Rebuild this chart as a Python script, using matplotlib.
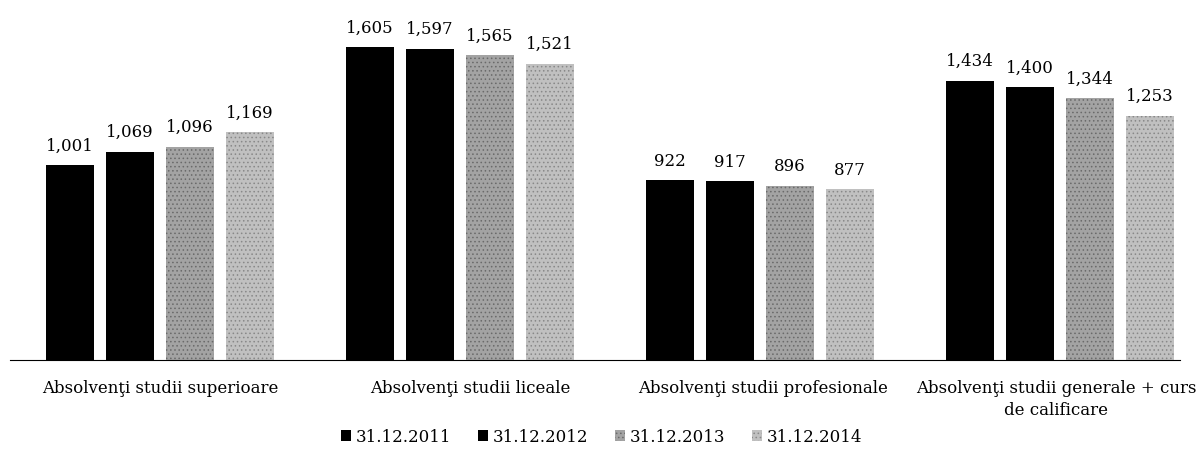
import matplotlib
matplotlib.use("Agg")
import matplotlib.pyplot as plt
import numpy as np

categories = ["Absolvenţi studii superioare", "Absolvenţi studii liceale",
              "Absolvenţi studii profesionale", "Absolvenţi studii generale + curs\nde calificare"]
series = ["31.12.2011", "31.12.2012", "31.12.2013", "31.12.2014"]
v2011 = [1001, 1605, 922, 1434]
v2012 = [1069, 1597, 917, 1400]
v2013 = [1096, 1565, 896, 1344]
v2014 = [1169, 1521, 877, 1253]
values = [v2011, v2012, v2013, v2014]

plt.rcParams['font.family'] = ['DejaVu Serif']
plt.rcParams['hatch.linewidth'] = 0.6
colors = ['black', 'black', '#a3a3a3', '#c0c0c0']
hatches = [None, None, '....', '....']
hatch_cols = ['black', 'black', '#6a6a6a', '#888888']

fig = plt.figure(figsize=(12.03, 4.67), dpi=100)
ax = fig.add_axes([0.0083, 0.229, 0.9727, 0.709])
x = np.arange(len(categories))
step = 0.2
width = 0.162
for i, vals in enumerate(values):
    pos = x + (i - 1.5) * step
    bars = ax.bar(pos, vals, width, color=colors[i], label=series[i],
                  hatch=hatches[i], edgecolor=hatch_cols[i], linewidth=0)
    for b, v in zip(bars, vals):
        ax.text(b.get_x() + b.get_width() / 2, v + 55, f"{v:,}", ha='center',
                va='bottom', fontsize=12)

ax.set_xlim(-0.5, 3.4)
ax.set_ylim(0, 1700)
ax.set_xticks(x + np.array([0.0, 0.033, 0.01, -0.013]))
ax.set_xticklabels(categories, fontsize=12, linespacing=1.45)
ax.tick_params(axis='x', length=0, pad=14)
ax.set_yticks([])
for s in ['top', 'left', 'right']:
    ax.spines[s].set_visible(False)
ax.spines['bottom'].set_linewidth(0.8)
fig.legend(loc='center', bbox_to_anchor=(0.5, 0.064), ncol=4,
           frameon=False, fontsize=12, handlelength=0.6, handleheight=0.6,
           handletextpad=0.3, columnspacing=1.6)
fig.savefig("out.png", dpi=100)
